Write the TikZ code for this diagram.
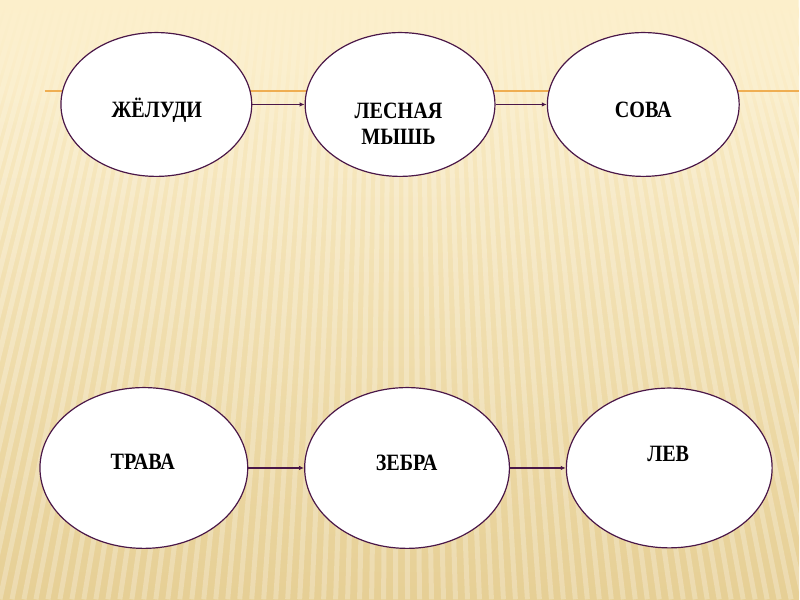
\documentclass[tikz,border=0pt]{standalone}
\usepackage{fontspec}
\setmainfont{Liberation Serif}
\newfontfamily\wordfont[FakeStretch=0.86]{Liberation Serif}
\usetikzlibrary{shapes.geometric,arrows.meta,fadings}
\definecolor{bgtop}{HTML}{FCEFCB}
\definecolor{bgbot}{HTML}{E6CF95}
\definecolor{rim}{HTML}{4A1748}
\definecolor{topline}{HTML}{EFAE52}

\begin{document}
\begin{tikzpicture}[x=1bp,y=-1bp,
    bubble/.style={ellipse, draw=rim, line width=1.2bp, fill=white, inner sep=0pt},
    word/.style={font=\wordfont\bfseries\fontsize{23.5}{26}\selectfont, align=center, inner sep=0pt},
    link/.style={rim, line width=1.5bp, -{Latex[length=5pt,width=4.5pt]}}]
    % Fon slajda
    \shade[top color=bgtop, bottom color=bgbot] (0,0) rectangle (800,600);
    \begin{scope}
        \clip (0,0) rectangle (800,600);
        \foreach \x in {-300,-288,...,1100}
            \draw[white, opacity=0.25, line width=5bp] (400,-1300) -- (\x,600);
    \end{scope}
    \fill[bgtop, path fading=south] (0,0) rectangle (800,150);
    \draw[topline, line width=1.8bp] (45,91.4) -- (800,91.4);

    % Verhnjaja cep'
    \node[bubble, minimum width=191bp, minimum height=144bp] (acorn) at (156.5,104.6) {};
    \node[bubble, minimum width=190bp, minimum height=144bp] (mouse) at (400.5,104.6) {};
    \node[bubble, minimum width=192bp, minimum height=144bp] (owl) at (644,104.6) {};
    \node[word] (acornT) at (157,110) {ЖЁЛУДИ};
    \node[word] (mouseT) at (399,124) {ЛЕСНАЯ\\МЫШЬ};
    \node[word] (owlT) at (644,110) {СОВА};
    \draw[link] (acorn.east) -- (mouse.west);
    \draw[link] (mouse.east) -- (owl.west);

    % Nizhnjaja cep'
    \node[bubble, minimum width=208bp, minimum height=161bp] (grass) at (144,468.5) {};
    \node[bubble, minimum width=205bp, minimum height=161bp] (zebra) at (407.5,468.5) {};
    \node[bubble, minimum width=206bp, minimum height=160bp] (lion) at (670,468.5) {};
    \node[word] (grassT) at (143,462) {ТРАВА};
    \node[word] (zebraT) at (407,463) {ЗЕБРА};
    \node[word] (lionT) at (669,454) {ЛЕВ};
    \draw[link] (grass.east) -- (zebra.west);
    \draw[link] (zebra.east) -- (lion.west);
\end{tikzpicture}
\end{document}
